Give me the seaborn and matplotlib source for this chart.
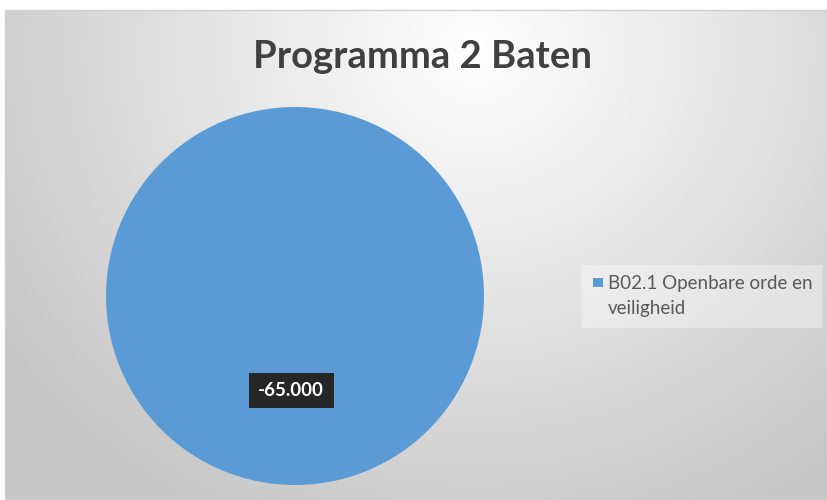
import numpy as np
import matplotlib
matplotlib.use("Agg")
import matplotlib.pyplot as plt
import seaborn as sns
from matplotlib.patches import Rectangle

# --- data ---
categories = ["B02.1 Openbare orde en\nveiligheid"]
values = [-65000]
value_labels = ["-65.000"]
title = "Programma 2 Baten"

sns.set_theme(style="white")
plt.rcParams["font.family"] = ["Lato", "DejaVu Sans"]

pie_color = "#5B9BD5"

fig = plt.figure(figsize=(8.27, 5.0), dpi=100)
fig.patch.set_facecolor("white")

# background: chart area with radial gradient (white at top centre, grey at edges)
bg = fig.add_axes([5 / 827, 0, 822 / 827, 490 / 500])
w, h = 822, 490
yy, xx = np.mgrid[0:h, 0:w]
cx, cy = 470, 40
d = np.sqrt(((xx - cx) / 560.0) ** 2 + ((yy - cy) / 520.0) ** 2)
d = np.clip(d, 0, 1)
shade = 1.0 - 0.22 * d
img = np.dstack([shade, shade, shade])
bg.imshow(img, extent=[0, w, h, 0], aspect="auto", interpolation="bilinear")
bg.set_xlim(0, w)
bg.set_ylim(h, 0)
bg.axis("off")
fig.add_artist(Rectangle((5 / 827, 0), 822 / 827, 490 / 500, transform=fig.transFigure,
                         fill=False, edgecolor="#d0d0d0", linewidth=1))

# pie
r = 189
pcx, pcy = 295, 296
ax = fig.add_axes([(pcx - r) / 827, (500 - pcy - r) / 500, 2 * r / 827, 2 * r / 500])
sizes = [abs(v) for v in values]
wedges, _ = ax.pie(sizes, colors=[pie_color], startangle=90, counterclock=False,
                   wedgeprops=dict(linewidth=0))
ax.set_xlim(-1, 1)
ax.set_ylim(-1, 1)
ax.set_aspect("equal")
ax.text(-0.02, -0.5, value_labels[0], ha="center", va="center", color="white",
        fontsize=13.5, fontweight="bold",
        bbox=dict(boxstyle="square,pad=0.5", facecolor="#262626", edgecolor="none"))

# title
fig.text(423 / 827, 1 - 57 / 500, title, ha="center", va="center",
         fontsize=27.5, fontweight="bold", color="#404040")

# legend
fig.add_artist(Rectangle((581 / 827, 1 - 328 / 500), 241 / 827, 63 / 500,
                         transform=fig.transFigure, facecolor="white", alpha=0.35,
                         edgecolor="none"))
fig.add_artist(Rectangle((593 / 827, 1 - 287 / 500), 10 / 827, 9 / 500,
                         transform=fig.transFigure, facecolor=pie_color, edgecolor="none"))
for i, line in enumerate(categories[0].split("\n")):
    fig.text(608 / 827, 1 - (289 + 25 * i) / 500, line, ha="left", va="baseline",
             fontsize=13.5, color="#595959")

fig.savefig("out.png", dpi=100)
